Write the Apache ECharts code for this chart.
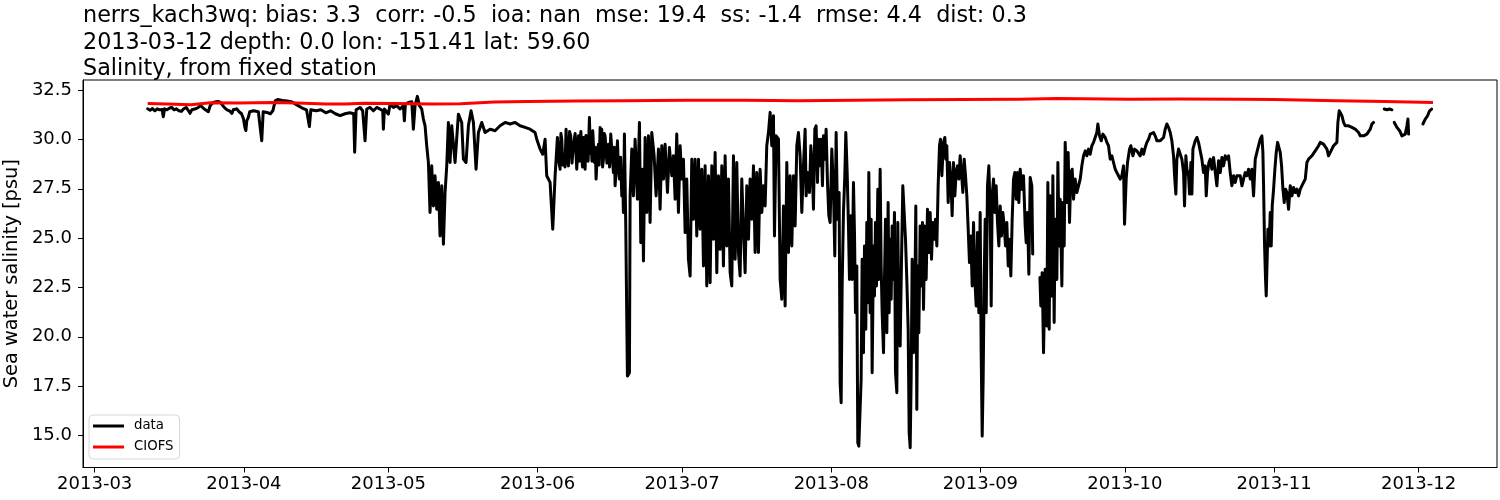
<!DOCTYPE html>
<html><head><meta charset="utf-8">
<script src="https://cdn.jsdelivr.net/npm/echarts@6/dist/echarts.min.js"></script>
<style>html,body{margin:0;padding:0;background:#fff}#c{width:1500px;height:500px}</style>
</head><body><div id="c"></div>
<script>
// Tick labels
const monthTickLabels = ['2013-03','2013-04','2013-05','2013-06','2013-07','2013-08','2013-09','2013-10','2013-11','2013-12'];
const salinityTicks = [15.0,17.5,20.0,22.5,25.0,27.5,30.0,32.5];
const seriesNames = ['data','CIOFS'];
const titleLines = [
  'nerrs_kach3wq: bias: 3.3  corr: -0.5  ioa: nan  mse: 19.4  ss: -1.4  rmse: 4.4  dist: 0.3',
  '2013-03-12 depth: 0.0 lon: -151.41 lat: 59.60',
  'Salinity, from fixed station'
];
const yAxisTitle = 'Sea water salinity [psu]';

// Observed salinity: [days since 2013-03-01, psu]  (null = gap)
const obsSalinity = [
[11.0,31.55],[11.5,31.48],[12.0,31.56],[12.5,31.45],[13.0,31.55],[13.5,31.50],[14.0,31.52],[14.25,31.15],[14.5,31.55],[15.0,31.50],[15.5,31.58],[16.0,31.62],[16.5,31.50],[17.0,31.55],[17.5,31.45],[18.0,31.42],[18.5,31.55],[19.0,31.62],[19.5,31.45],[19.8,31.32],[20.2,31.50],[21.0,31.55],[21.5,31.62],[22.0,31.72],[22.5,31.60],[23.0,31.50],[23.6,31.40],[24.0,31.72],[24.5,31.85],[25.0,31.90],[25.5,31.92],[26.0,31.90],[26.5,31.75],[27.0,31.60],[27.5,31.50],[28.0,31.45],[28.5,31.32],[28.8,31.50],[29.5,31.55],[30.0,31.40],[30.5,31.30],[30.9,31.05],[31.2,30.60],[31.4,30.45],[31.6,30.95],[31.9,31.10],[32.2,31.40],[33.0,31.45],[34.0,31.40],[34.4,31.35],[34.7,29.93],[35.0,31.40],[36.0,31.35],[36.5,31.30],[37.0,31.45],[37.5,31.95],[38.0,32.02],[39.0,31.97],[40.0,31.95],[41.0,31.90],[42.0,31.75],[43.0,31.60],[44.0,31.50],[44.4,31.45],[44.6,30.65],[44.9,31.50],[46.0,31.45],[47.0,31.50],[48.0,31.35],[49.0,31.45],[50.0,31.30],[51.0,31.20],[52.0,31.30],[53.0,31.35],[53.8,31.30],[54.0,29.35],[54.3,31.50],[55.12,31.62],
[55.67,31.45],[56.16,29.93],[56.51,31.54],[57.2,31.62],[57.89,31.45],[58.58,31.62],[59.28,31.54],[59.83,31.45],[59.97,30.52],[60.18,31.54],[61.0,31.28],[61.35,31.79],[62.05,31.62],[62.74,31.71],[63.43,31.54],[64.12,31.71],[64.33,30.94],[64.54,31.79],[65.16,31.87],[65.86,31.91],[66.2,30.52],[66.55,31.71],[67.03,32.18],[67.45,31.71],[67.93,31.54],[68.28,31.03],[68.63,30.69],[68.97,29.68],[69.32,28.83],[69.66,26.30],[70.01,28.66],[70.36,26.63],[70.7,28.16],[71.05,26.46],[71.4,27.82],[71.74,25.11],[72.09,27.65],[72.44,24.69],[72.78,27.31],[73.13,28.66],[73.47,30.86],[73.82,28.83],[74.17,30.69],[74.86,28.83],[75.55,31.28],[76.24,30.86],[76.59,29.00],[77.14,28.83],[77.63,30.69],[78.18,31.45],[78.67,30.86],[79.22,28.49],[79.71,30.35],[80.4,30.86],[81.09,30.35],[82.13,30.52],[83.17,30.44],[84.21,30.69],[85.25,30.86],[86.29,30.78],[87.33,30.86],[88.36,30.69],[89.4,30.61],[90.44,30.52],[91.48,30.35],[91.83,30.01],[92.52,29.51],[93.07,29.25],[93.56,30.01],[93.9,28.16],[94.6,27.82],[95.15,25.45],[95.64,28.16],
[96.12,30.10],[96.4,28.9],[96.68,28.49],[96.85,30.3],[97.02,30.01],[97.25,28.7],[97.51,29.17],[97.7,28.6],[97.92,30.52],[98.15,29.0],[98.41,28.66],[98.65,30.4],[98.89,30.18],[99.15,28.8],[99.45,29.68],[99.8,30.3],[100.14,28.49],[100.3,29.4],[100.49,30.18],[100.65,28.9],[100.83,30.01],[101.0,30.4],[101.18,29.00],[101.35,28.6],[101.52,30.10],[101.7,29.6],[101.87,28.49],[102.05,30.2],[102.22,29.68],[102.5,28.9],[102.77,31.11],[102.95,29.3],[103.12,29.85],[103.3,28.9],[103.46,30.44],[103.65,29.5],[103.81,28.83],[104.0,29.6],[104.15,27.99],[104.4,29.2],[104.64,29.76],[104.8,28.7],[104.99,30.61],[105.15,29.4],[105.33,30.52],[105.5,28.6],[105.68,29.00],[105.85,30.3],[106.02,30.18],[106.4,28.8],[106.72,29.76],[106.95,28.6],[107.2,30.27],[107.5,29.2],[107.76,28.32],[107.95,29.6],[108.1,27.65],[108.35,28.6],[108.59,29.93],[108.8,28.5],[109.0,27.99],[109.25,29.1],[109.49,27.14],[109.65,28.4],[109.83,26.30],[110.04,30.27],[110.32,25.62],[110.66,18.01],[111.08,18.18],[111.22,27.14],[111.57,29.51],[111.91,27.14],[112.26,30.01],[112.74,26.97],[113.16,30.86],[113.44,24.77],[113.78,28.49],[113.99,23.84],[114.34,30.10],[114.68,26.30],[115.03,30.18],[115.37,25.79],[115.72,30.35],[116.21,29.17],[116.62,27.14],[117.11,29.51],[117.45,26.46],[117.8,29.68],[118.15,27.99],[118.49,29.76],[118.98,27.31],[119.39,29.59],[119.88,28.16],[120.22,29.17],[120.57,26.97],[120.91,30.27],[121.26,26.30],[121.61,29.68],[121.95,27.99],[122.3,29.00],[122.65,25.28],[122.99,27.99],[123.34,23.93],[123.69,23.08],[124.03,29.00],[124.38,25.96],[124.72,29.00],[125.07,25.11],[125.42,29.00],[125.76,25.45],[126.11,28.49],[126.46,23.59],[126.8,28.66],[127.15,22.58],[127.5,28.16],[127.84,22.74],[128.19,28.66],[128.53,24.94],[128.88,29.34],[129.23,23.25],[129.57,28.16],[129.92,24.43],[130.27,28.66],[130.61,23.59],[130.96,29.17],[131.3,24.60],[131.65,27.99],[132.0,23.25],[132.34,22.58],[132.69,29.17],[133.04,23.93],[133.38,28.83],[133.73,24.27],[134.07,23.08],[134.42,27.99],[134.77,25.45],[135.11,23.25],[135.46,27.65],[135.81,24.94],[136.15,27.99],[136.5,25.96],[136.85,28.66],[137.19,24.27],[137.54,28.32],[137.88,24.27],[138.23,28.49],[138.58,26.30],[138.92,27.65],[139.27,26.63],[139.61,29.68],[139.96,30.35],[140.31,31.37],[140.65,29.68],[141.0,31.20],[141.21,25.11],[141.55,30.18],[142.04,30.01],[142.39,22.91],[142.73,21.90],[143.08,26.63],[143.42,21.56],[143.77,28.83],[144.12,24.27],[144.46,28.16],[144.81,24.60],[145.16,28.16],[145.5,25.62],[145.85,29.68],[146.19,30.35],
[146.54,29.17],[146.89,26.30],[147.23,28.66],[147.58,30.52],[147.79,27.14],[148.06,28.32],[148.48,27.31],[148.76,29.68],[149.03,28.66],[149.31,26.46],[149.59,30.52],[149.86,30.69],[150.14,27.82],[150.35,30.01],[150.7,28.66],[150.9,30.01],[151.18,27.65],[151.39,30.18],[151.67,29.00],[151.94,30.52],[152.22,27.82],[152.5,26.13],[152.77,25.79],[153.12,29.51],[153.47,27.48],[153.74,24.10],[154.02,30.35],[154.3,25.96],[154.64,27.31],[154.85,17.67],[155.06,16.66],[155.27,22.58],[155.54,26.30],[155.82,28.16],[156.03,30.35],[156.31,28.32],[156.58,25.62],[156.79,22.91],[157.07,26.13],[157.34,22.91],[157.62,27.82],[157.83,25.28],[158.04,21.22],[158.31,23.59],[158.52,14.63],[158.73,14.46],[159.01,14.38],[159.21,17.84],[159.42,23.93],[159.7,19.19],[159.91,24.60],[160.18,20.38],[160.39,25.79],[160.6,21.73],[160.81,28.32],[161.08,21.22],[161.29,25.96],[161.5,18.18],[161.78,24.60],[161.98,22.07],[162.19,25.79],[162.4,22.58],[162.68,27.48],[162.88,22.91],[163.16,28.49],[163.37,23.59],[163.58,21.22],[163.86,19.19],[164.06,22.91],[164.27,25.96],[164.55,20.21],[164.82,26.80],[165.03,21.22],[165.24,24.94],[165.45,21.90],[165.66,25.62],[165.86,22.91],[166.14,26.30],[166.35,18.18],[166.63,17.17],[166.83,25.79],[167.04,21.22],[167.32,19.53],[167.59,23.76],[167.87,27.65],[168.15,27.65],[168.43,24.94],[168.7,22.91],[168.98,20.38],[169.19,15.14],[169.4,14.38],[169.6,17.84],[169.81,23.93],[170.09,19.19],[170.36,21.90],[170.57,26.63],[170.78,16.32],[170.99,23.59],[171.2,20.21],[171.47,25.62],[171.75,22.58],[171.96,25.79],[172.17,21.39],[172.44,25.62],[172.72,22.91],[173.0,26.46],[173.27,24.27],[173.55,26.30],[173.83,23.93],[174.1,25.79],[174.38,24.94],[174.66,25.96],[174.94,24.60],[175.21,27.65],[175.49,29.68],[175.7,30.01],[175.98,28.16],[176.32,29.85],[176.6,30.10],[176.81,29.00],[177.01,29.68],[177.29,26.80],[177.57,28.83],[177.84,27.99],[178.12,26.13],[178.4,28.83],[178.68,27.14],[178.95,28.32],[179.23,28.66],[179.51,27.99],[179.78,29.17],[180.06,28.32],[180.34,27.31],[180.62,29.00],[180.89,28.16],[181.17,27.14],[181.45,25.45],[181.72,23.76],[182.0,25.11],[182.28,22.58],[182.56,25.79],[182.83,22.91],[183.11,21.56],[183.39,25.28],[183.66,21.22],[183.94,26.30],[184.15,19.19],[184.36,14.97],[184.56,17.84],[184.77,22.91],[184.98,25.96],[185.19,21.22],[185.46,27.65],[185.74,28.66],[186.02,26.30],[186.23,21.56],[186.43,27.14],[186.71,27.99],[186.99,26.30],[187.26,27.65],[187.54,25.79],[187.82,24.60],[188.1,26.63],[188.37,25.11],[188.65,26.30],[188.93,25.62],[189.2,24.60],[189.48,25.79],[189.76,23.59],[190.03,24.94],[190.31,23.08],[190.59,25.96],[190.87,27.99],[191.14,28.32],[191.42,26.97],[191.7,28.32],[191.97,26.80],
[192.25,28.49],[192.6,27.48],[192.94,28.16],[193.29,25.62],[193.5,24.77],[193.77,26.30],[194.05,23.17],[194.33,28.07],[194.67,27.65],[194.85,24.20],
[195.4,null],
[196.35,23.00],[196.54,21.56],[196.82,23.25],[197.1,19.19],[197.44,23.42],[197.79,20.55],[198.0,27.82],[198.28,20.38],[198.48,27.14],[198.83,22.07],[199.04,28.16],[199.31,20.72],[199.52,25.96],[199.87,22.91],[200.08,28.83],[200.35,24.60],[200.56,26.97],[200.91,22.58],[201.12,26.80],[201.39,24.60],[201.6,29.85],[201.95,26.80],[202.22,29.34],[202.5,25.79],[202.78,28.32],[203.05,28.49],[203.33,26.97],[203.68,27.99],[204.02,27.31],[204.37,27.65],[204.72,27.99],[205.06,28.66],[205.41,29.17],[205.76,29.42],[206.1,29.17],[206.45,29.51],[206.79,29.25],[207.14,29.68],[207.49,29.85],[207.83,30.10],[208.18,30.35],[208.39,30.78],[208.73,30.18],[209.08,29.93],[209.43,30.27],[209.91,30.10],[210.26,29.85],[210.6,29.68],[210.95,29.00],[211.3,29.17],[211.64,28.83],[211.99,28.49],[212.34,28.32],[212.68,28.16],[213.03,27.99],[213.37,28.16],[213.72,28.66],[213.93,25.70],[214.27,27.99],[214.55,28.83],[214.97,29.51],[215.24,29.68],[215.66,29.17],[216.01,29.51],[216.49,29.42],[216.84,29.51],[217.18,29.17],[217.53,29.51],[217.88,29.25],[218.22,29.59],[218.57,29.85],[218.92,30.01],[219.26,30.27],[219.61,30.35],[219.95,30.35],[220.3,30.18],[220.65,29.93],[220.99,30.01],[221.34,29.93],[221.69,29.93],[222.03,30.10],[222.38,30.52],[222.72,30.78],[223.07,30.61],[223.42,30.35],[223.76,29.93],[224.11,29.17],[224.32,28.16],[224.59,27.23],[224.8,29.00],[225.15,29.51],[225.49,29.42],[225.84,29.00],[226.19,28.32],[226.39,26.63],[226.67,29.17],[226.88,28.49],[227.23,28.16],[227.43,27.23],[227.71,28.83],[227.92,27.23],[228.13,29.51],[228.4,29.42],[228.61,29.93],[228.96,30.10],[229.3,29.85],[229.65,29.85],[229.99,29.00],[230.34,28.32],[230.69,28.66],[230.9,27.14],[231.17,28.32],[231.45,28.83],[231.73,29.00],[232.07,28.49],[232.42,29.08],[232.77,29.00],[233.11,27.65],[233.46,28.92],[233.81,28.32],[234.15,29.08],[234.5,28.66],[234.84,29.17],[235.19,29.00],[235.54,29.17],[235.88,28.32],[236.23,27.65],[236.58,28.16],[236.92,27.82],[237.27,28.16],[237.61,28.16],
[237.96,28.16],[238.31,27.65],[238.65,27.99],[239.0,28.32],[239.35,28.16],[239.69,28.49],[240.04,27.99],[240.38,28.49],[240.73,27.14],[241.08,29.00],[241.42,29.34],[241.77,29.68],[242.12,30.01],[242.46,30.18],[242.67,29.34],[242.81,27.65],[243.02,24.60],[243.22,22.91],[243.36,22.07],[243.5,23.42],[243.71,25.45],[243.99,24.60],[244.19,26.30],[244.4,24.60],[244.61,26.63],[244.89,27.48],[245.16,28.49],[245.44,29.34],[245.72,29.85],[245.99,29.76],[246.27,29.34],[246.55,28.66],[246.83,27.48],[247.1,26.80],[247.38,27.48],[247.66,27.31],[248.0,26.46],[248.35,27.65],[248.7,27.14],[249.04,27.56],[249.39,27.31],[249.73,27.48],[250.08,27.14],[250.43,27.48],[250.77,27.48],[251.12,27.82],[251.47,27.99],[251.81,28.83],[252.16,29.00],[252.5,28.92],[252.85,29.17],[253.2,29.08],[253.54,29.42],[253.89,29.34],[254.24,29.68],[254.58,29.85],[254.93,29.93],[255.27,29.76],[255.62,29.76],[255.97,29.51],[256.31,29.17],[256.66,29.25],[257.0,29.51],[257.35,29.68],[257.7,29.76],[258.04,29.85],[258.25,30.86],[258.53,31.45],[258.74,31.45],[259.08,31.20],[259.43,30.86],[259.78,30.69],[260.12,30.69],[260.47,30.69],[260.82,30.61],[261.16,30.61],[261.51,30.52],[261.85,30.52],[262.2,30.52],[262.55,30.35],[262.89,30.18],[263.24,30.27],[263.59,30.18],[263.93,30.27],[264.28,30.27],[264.62,30.35],[264.97,30.52],[265.32,30.78],[265.66,30.86],
[266.5,null],
[267.88,31.54],[268.43,31.50],[268.99,31.54],[269.47,31.50],
[269.7,null],
[269.96,30.86],[270.51,30.61],[271.07,30.44],[271.55,30.18],[271.9,30.10],[272.24,30.27],[272.59,30.69],[272.8,31.03],[272.94,30.27],
[274.0,null],
[275.91,30.78],[276.4,31.03],[276.88,31.20],[277.3,31.45],[277.72,31.54]
];

// CIOFS model salinity: [days since 2013-03-01, psu]
const ciofsSalinity = [
[11,31.82],[15,31.80],[20,31.76],[24,31.86],[30,31.84],[37,31.87],[42,31.84],[48,31.80],[52,31.79],[56,31.83],[62,31.82],[70,31.80],[76,31.81],[83,31.90],[90,31.92],[100,31.94],[110,31.96],[123,31.98],[135,31.98],[146,31.96],[158,31.99],[169,32.01],[180,32.02],[192,32.04],[200,32.07],[215,32.04],[225,32.05],[238,32.04],[245,32.02],[258,31.96],[268,31.92],[278,31.87]
];

const DAY = 86400000;
const T0 = Date.UTC(2013, 2, 1);
const toTime = p => [T0 + p[0] * DAY, p[1]];
const monthTickTimes = monthTickLabels.map(s => Date.UTC(+s.slice(0,4), +s.slice(5,7) - 1, 1));
const FONT = 'DejaVu Sans';
const fmtMonth = v => { const d = new Date(v); return d.getUTCFullYear() + '-' + String(d.getUTCMonth() + 1).padStart(2, '0'); };

const chart = echarts.init(document.getElementById('c'), null, {renderer: 'canvas'});
chart.setOption({
  animation: false,
  backgroundColor: '#fff',
  title: {
    text: titleLines.join('\n'),
    left: 83, top: 3, padding: 0,
    textStyle: {fontFamily: FONT, fontSize: 22.3, fontWeight: 'normal', color: '#000', lineHeight: 26.6}
  },
  grid: {left: 83, right: 3, top: 80, bottom: 32.5, containLabel: false, outerBoundsMode: 'none',
         show: true, borderColor: '#000', borderWidth: 1, backgroundColor: 'transparent'},
  legend: {
    left: 89, top: 415, orient: 'vertical',
    data: seriesNames.map(n => ({name: n, icon: 'rect'})),
    itemWidth: 31, itemHeight: 3, itemGap: 7,
    padding: [4, 6, 5, 4],
    borderColor: '#d6d6d6', borderWidth: 1, borderRadius: 4, backgroundColor: 'rgba(255,255,255,0.8)',
    textStyle: {fontFamily: FONT, fontSize: 13.3, color: '#000', lineHeight: 14, padding: [0, 0, 0, 5]}
  },
  xAxis: {
    type: 'value',
    min: T0 - 2.43 * DAY, max: T0 + 291.3 * DAY,
    splitLine: {show: false},
    axisLine: {show: true, onZero: false, lineStyle: {color: '#000', width: 1}},
    axisTick: {show: true, length: 5, inside: false, lineStyle: {color: '#000'}, customValues: monthTickTimes},
    axisLabel: {customValues: monthTickTimes, margin: 8, color: '#000', fontFamily: FONT, fontSize: 18,
                hideOverlap: false, showMinLabel: true, showMaxLabel: true, formatter: fmtMonth}
  },
  yAxis: {
    type: 'value', min: 13.38, max: 33.01,
    name: yAxisTitle, nameLocation: 'middle', nameGap: 62,
    nameTextStyle: {fontFamily: FONT, fontSize: 19.4, color: '#000'},
    splitLine: {show: false},
    axisLine: {show: true, onZero: false, lineStyle: {color: '#000', width: 1}},
    axisTick: {show: true, length: 5, lineStyle: {color: '#000'}, customValues: salinityTicks},
    axisLabel: {customValues: salinityTicks, margin: 11, color: '#000', fontFamily: FONT, fontSize: 18,
      formatter: v => Number(v).toFixed(1)}
  },
  series: [
    {name: seriesNames[0], type: 'line', data: obsSalinity.map(toTime), showSymbol: false, connectNulls: false,
     lineStyle: {color: '#000', width: 3, join: 'round', cap: 'round'}, itemStyle: {color: '#000'}, z: 2},
    {name: seriesNames[1], type: 'line', data: ciofsSalinity.map(toTime), showSymbol: false,
     lineStyle: {color: '#ff0000', width: 3, join: 'round'}, itemStyle: {color: '#ff0000'}, z: 3}
  ]
});
</script></body></html>
